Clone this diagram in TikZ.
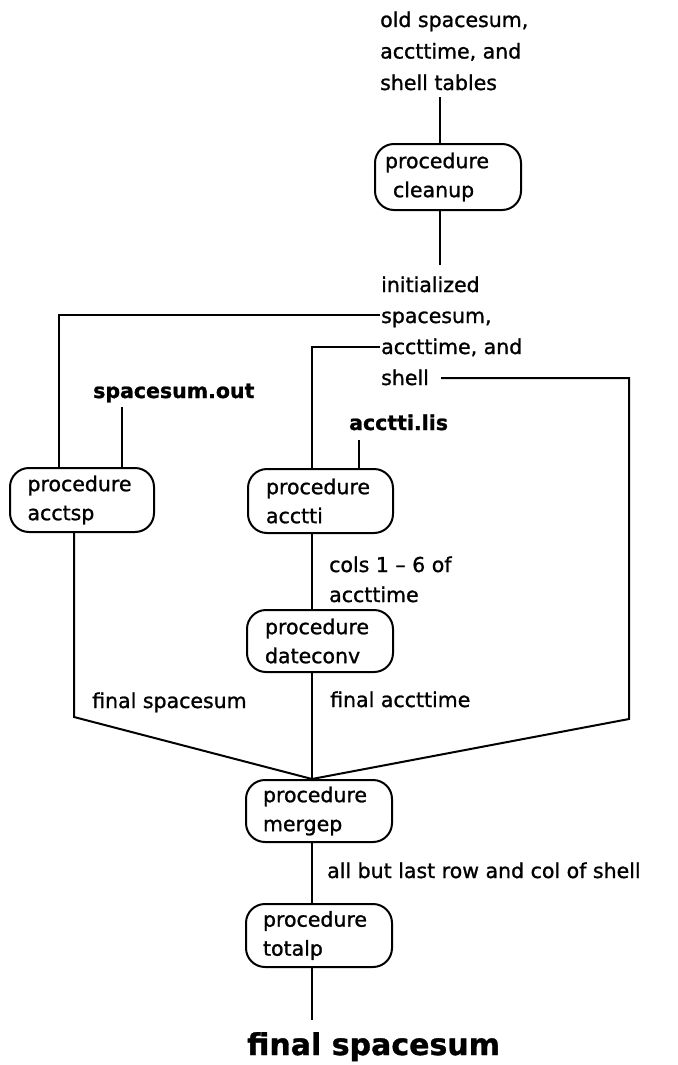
\documentclass[tikz,border=0pt]{standalone}
\usepackage{fontspec}
\setmainfont{DejaVu Sans}[FakeBold=1.1]
\begin{document}
\begin{tikzpicture}[x=1pt,y=-1pt,
  wire/.style={line width=2pt, line join=miter},
  proc/.style={draw, line width=2pt, rounded corners=19pt, minimum height=64pt,
    inner xsep=18pt, inner ysep=0pt, text width=110pt, align=left,
    font=\fontsize{20.5}{29}\selectfont},
  lbl/.style={inner sep=0pt, anchor=base west, align=left,
    font=\fontsize{20.5}{31.5}\selectfont},
  file/.style={inner sep=0pt, anchor=base west, font=\fontsize{20.5}{25}\selectfont\bfseries},
]
\useasboundingbox[fill=white] (0,0) rectangle (677,1065);

% columns of the vertical wires
\coordinate (colA) at (59,0);
\coordinate (colB) at (122,0);
\coordinate (colC) at (74,0);
\coordinate (spine) at (312,0);
\coordinate (colD) at (359,0);
\coordinate (colE) at (629,0);
\coordinate (colF) at (440,0);

% input tables and cleanup (base anchor = baseline of the last line)
\node[lbl] (old) at (380,90) {old spacesum,\\accttime, and\\shell tables};
\node[proc, text width=126pt, inner xsep=10pt, minimum height=66pt] (cleanup) at (448,177)
  {procedure\\\hspace*{8pt}cleanup};
\node[lbl, font=\fontsize{20.5}{31}\selectfont] (init) at (381,385) {initialized\\spacesum,\\accttime, and\\shell};

% free ends of the wires leaving the initialized tables
\coordinate (spIn) at (380,315);
\coordinate (atIn) at (380,347);
\coordinate (shOut) at (441,378);

% files read by the procedures
\node[file] (ssout) at (93,398) {spacesum.out};
\node[file] (ttlis) at (349,430) {acctti.lis};

% procedures
\node[proc, text width=109pt, inner xsep=17.5pt] (acctsp) at (82,500) {procedure\\acctsp};
\node[proc, text width=109pt] (acctti) at (320.5,501) {procedure\\acctti};
\node[proc, text width=110pt, minimum height=62pt] (dateconv) at (320,641) {procedure\\dateconv};
\node[proc, text width=112pt, inner xsep=17pt, minimum height=62pt] (mergep) at (319,811) {procedure\\mergep};
\node[proc, text width=112pt, inner xsep=17pt, minimum height=63pt] (totalp) at (319,935.5) {procedure\\totalp};

% labels on the wires
\node[lbl, font=\fontsize{20.5}{30}\selectfont] (cols) at (329,602) {cols 1 – 6 of\\accttime};
\node[lbl] (fsp) at (92,708) {final spacesum};
\node[lbl] (fat) at (330,707) {final accttime};
\node[lbl] (allbut) at (327,878) {all but last row and col of shell};
\node[inner sep=0pt, anchor=base west, font=\fontsize{30}{36}\selectfont\bfseries] (result) at (247,1055) {final spacesum};

% bends of the outer wires into mergep
\coordinate (lBend) at (74,717);
\coordinate (rBend) at (629,719);

% wires
\draw[wire] ([yshift=-7pt]old.south -| colF) -- (cleanup.north -| colF);
\draw[wire] (cleanup.south -| colF) -- ([yshift=11pt]init.north -| colF);
\draw[wire] (spIn) -| (acctsp.north -| colA);
\draw[wire] (atIn) -| (acctti.north -| spine);
\draw[wire] (shOut) -| (rBend) -- (mergep.north -| spine);
\draw[wire] ([yshift=-5pt]ssout.south -| colB) -- (acctsp.north -| colB);
\draw[wire] ([yshift=-10pt]ttlis.south -| colD) -- (acctti.north -| colD);
\draw[wire] (acctsp.south -| colC) -- (lBend) -- (mergep.north -| spine);
\draw[wire] (acctti.south -| spine) -- (dateconv.north -| spine);
\draw[wire] (dateconv.south -| spine) -- (mergep.north -| spine);
\draw[wire] (mergep.south -| spine) -- (totalp.north -| spine);
\draw[wire] (totalp.south -| spine) -- ([yshift=12pt]result.north -| spine);
\end{tikzpicture}
\end{document}
